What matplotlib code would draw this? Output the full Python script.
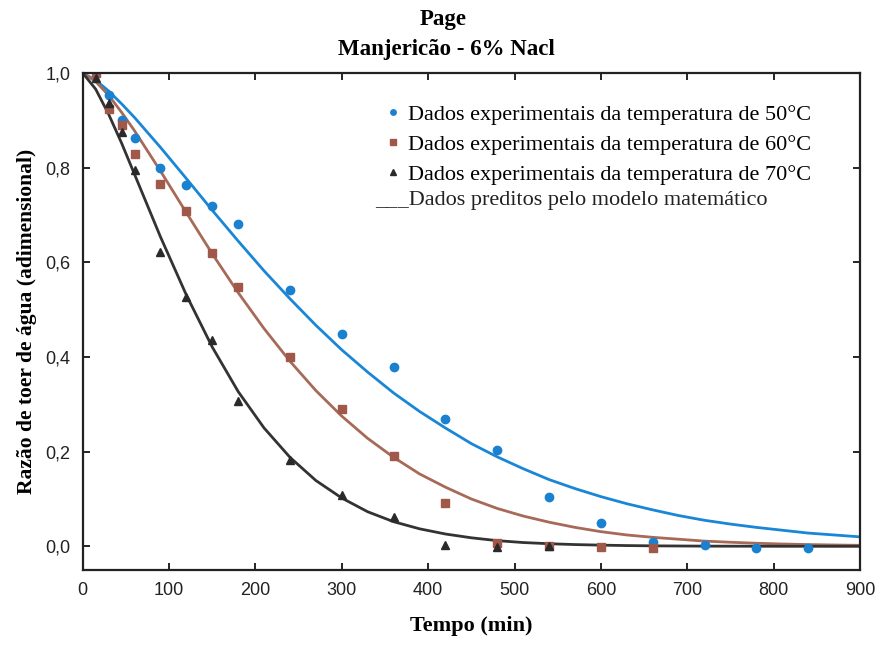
import numpy as np
import matplotlib
matplotlib.use('Agg')
import matplotlib.pyplot as plt

t50 = [30, 45, 60, 90, 120, 150, 180, 240, 300, 360, 420, 480, 540, 600, 660, 720, 780, 840]
mr50 = [0.953, 0.90, 0.862, 0.80, 0.763, 0.72, 0.68, 0.541, 0.448, 0.378, 0.27, 0.203,
        0.104, 0.05, 0.01, 0.002, -0.003, -0.003]

t60 = [15, 30, 45, 60, 90, 120, 150, 180, 240, 300, 360, 420, 480, 540, 600, 660]
mr60 = [1.0, 0.925, 0.89, 0.828, 0.765, 0.708, 0.62, 0.548, 0.40, 0.29, 0.19, 0.091,
        0.006, 0.0, -0.001, -0.003]

t70 = [15, 30, 45, 60, 90, 120, 150, 180, 240, 300, 360, 420, 480, 540]
mr70 = [0.99, 0.937, 0.875, 0.795, 0.622, 0.527, 0.435, 0.307, 0.182, 0.108, 0.062,
        0.002, -0.001, 0.0]

# predicted curves
t_mod = [0, 15, 30, 45, 60, 90, 120, 150, 180, 210, 240, 270, 300, 330, 360, 390, 420,
         450, 480, 510, 540, 570, 600, 630, 660, 690, 720, 750, 780, 810, 840, 870, 900]
mod50 = [1.0, 0.985, 0.962, 0.935, 0.906, 0.843, 0.777, 0.710, 0.645, 0.582, 0.523, 0.467,
         0.415, 0.368, 0.324, 0.285, 0.250, 0.217, 0.189, 0.164, 0.141, 0.122, 0.105,
         0.090, 0.077, 0.065, 0.055, 0.047, 0.040, 0.034, 0.028, 0.024, 0.020]
mod60 = [1.0, 0.982, 0.953, 0.917, 0.878, 0.793, 0.705, 0.618, 0.536, 0.460, 0.391, 0.329,
         0.275, 0.228, 0.188, 0.153, 0.125, 0.100, 0.080, 0.064, 0.051, 0.040, 0.031,
         0.024, 0.019, 0.015, 0.011, 0.0086, 0.0065, 0.0049, 0.0037, 0.0028, 0.0021]
mod70 = [1.0, 0.966, 0.913, 0.852, 0.786, 0.654, 0.531, 0.421, 0.327, 0.250, 0.188, 0.139,
         0.102, 0.073, 0.052, 0.037, 0.026, 0.018, 0.012, 0.008, 0.0055, 0.0037, 0.0025,
         0.0016, 0.001, 0.0007, 0.0004, 0.0003, 0.0002, 0.0001, 0.0001, 0.0, 0.0]

xticks = [0, 100, 200, 300, 400, 500, 600, 700, 800, 900]
yticks = [0.0, 0.2, 0.4, 0.6, 0.8, 1.0]
ytick_labels = ['0,0', '0,2', '0,4', '0,6', '0,8', '1,0']

c_blue = '#1a80d0'
c_brown = '#a0584a'
c_black = '#2a2a2a'
serif = 'Liberation Serif'
sans = 'Liberation Sans'

fig = plt.figure(figsize=(8.78, 6.45), dpi=100)
ax = fig.add_axes([0.0942, 0.1163, 0.8853, 0.7705])

ax.plot(t_mod, mod50, color='#1a86d6', lw=2.0)
ax.plot(t_mod, mod60, color='#a86a58', lw=2.0)
ax.plot(t_mod, mod70, color='#333333', lw=2.0)

h1, = ax.plot(t50, mr50, 'o', color=c_blue, ms=6, ls='none')
h2, = ax.plot(t60, mr60, 's', color=c_brown, ms=6, ls='none')
h3, = ax.plot(t70, mr70, '^', color=c_black, ms=6, ls='none')

ax.set_xlim(0, 900)
ax.set_ylim(-0.05, 1.0)
ax.set_xticks(xticks)
ax.set_yticks(yticks)
ax.set_yticklabels(ytick_labels)
ax.tick_params(direction='in', top=True, right=True, length=5, width=1.2,
               labelsize=13, pad=9)
for lab in ax.get_xticklabels() + ax.get_yticklabels():
    lab.set_fontfamily(sans)
    lab.set_color('#222222')
for s in ax.spines.values():
    s.set_linewidth(1.6)
    s.set_color('#222222')

ax.set_xlabel('Tempo (min)', fontfamily=serif, fontweight='bold', fontsize=16, labelpad=12)
ax.set_ylabel('Razão de toer de água (adimensional)', fontfamily=serif,
              fontweight='bold', fontsize=15.5, labelpad=6)

leg = ax.legend([h1, h2, h3],
                ['Dados experimentais da temperatura de 50°C',
                 'Dados experimentais da temperatura de 60°C',
                 'Dados experimentais da temperatura de 70°C'],
                loc='upper left', bbox_to_anchor=(0.381, 0.955), frameon=False,
                prop={'family': serif, 'size': 16}, handlelength=0.5,
                handletextpad=0.4, labelspacing=0.42, markerscale=0.65,
                borderaxespad=0)
ax.text(0.376, 0.744, '___Dados preditos pelo modelo matemático', transform=ax.transAxes,
        fontfamily=serif, fontsize=16, va='center', ha='left', color='#222222')

fig.text(0.505, 0.969, 'Page', ha='center', va='center', fontfamily=serif,
         fontweight='bold', fontsize=16.5)
fig.text(0.508, 0.924, 'Manjericão - 6% Nacl', ha='center', va='center',
         fontfamily=serif, fontweight='bold', fontsize=16.5)

fig.savefig('out.png', dpi=100)
